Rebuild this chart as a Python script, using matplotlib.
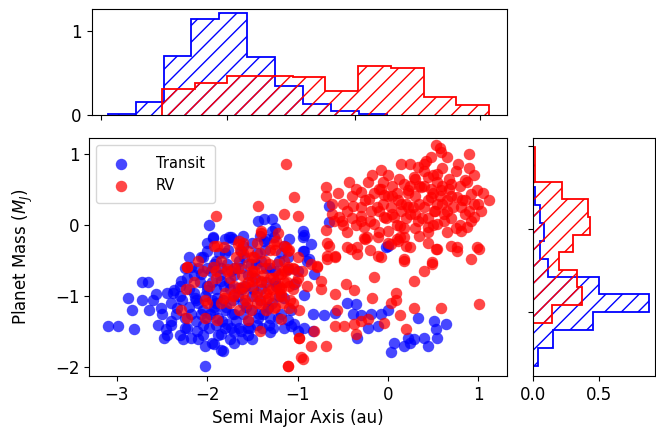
import matplotlib
matplotlib.use("Agg")
import matplotlib.pyplot as plt
import numpy as np

# --- scatter data: log10 semi-major axis (au) and log10 planet mass (M_J) ---
transit_a = [
    -3.10, -2.99, -2.81, -2.88, -2.83, -2.72, -2.66, -2.72, -2.57, -2.51,
    -2.48, -2.46, -2.40, -2.37, -2.29, -2.33, -2.27, -2.22, -2.18, -2.11,
    -2.07, -2.00, -1.94, -2.02, -1.92, -1.83, -1.85, -2.14, -2.07, -2.00,
    -1.92, -1.89, -1.78, -1.74, -1.63, -1.85, -1.74, -1.66, -1.55, -1.44,
    -1.33, -1.63, -2.07, -2.18, -1.70, -1.18, -1.11, -1.04, -1.37, -1.26,
    -1.11, -1.00, -1.00, -1.98, -1.94, -1.76, -2.05, -1.44, -1.37, -1.28,
    -1.28, -0.94, -0.93, -0.93, -0.87, -0.65, -0.65, -0.94, -0.94, -0.89,
    -0.82, -1.11, -1.04, -0.93, -1.15, -1.07, -1.07, -0.93, -0.83, -0.83,
    -0.71, -0.59, -0.45, -0.35, -0.39, -0.30, -0.19, -0.11, -0.08, 0.00,
    -0.22, -0.34, 0.03, 0.07, 0.18, 0.25, 0.29, 0.22, 0.33, 0.40,
    0.44, 0.51, 0.53, 0.55, 0.64, 0.00, -0.85, -0.02,
    -2.20, -2.10, -2.00, -1.95, -1.90, -1.85, -1.80, -1.75, -1.70, -1.65,
    -1.60, -1.55, -1.50, -1.45, -1.40, -1.35, -1.30, -2.25, -2.15, -2.05,
    -1.95, -1.90, -1.80, -1.75, -2.30, -2.00, -1.60, -1.55, -1.25, -1.20,
    -1.15, -2.40, -2.45, -1.30, -1.85,
]
transit_m = [
    -1.42, -1.42, -1.46, -1.02, -1.20, -0.80, -0.80, -1.06, -0.97, -1.16,
    -1.58, -1.46, -1.35, -0.92, -0.78, -1.16, -1.60, -1.44, -1.58, -1.49,
    -0.45, -0.36, -0.17, -1.98, -1.67, -1.77, -1.53, -1.02, -1.25, -0.92,
    -1.20, -1.02, -1.39, -0.17, -0.36, -0.78, -0.64, -0.88, -1.44, -1.30,
    -1.16, -1.49, -0.69, -0.59, -1.25, -1.25, -1.34, -1.39, -0.22, -0.17,
    -0.45, -0.64, -1.49, 0.00, -0.19, -0.17, -0.45, 0.06, 0.09, 0.09,
    -0.08, -0.08, -0.14, -0.36, -0.48, 0.27, 0.04, -0.17, -0.36, -0.50,
    -0.69, -0.62, -0.83, -0.99, -1.02, -1.20, -1.42, -1.44, -1.25, -1.49,
    -1.27, -1.23, -1.09, -1.11, -1.25, -1.27, -1.25, -1.42, -1.25, -1.20,
    -1.44, -1.58, -1.79, -1.65, -1.70, -1.65, -1.60, -1.58, -1.30, -1.58,
    -1.70, -1.35, -1.46, -1.58, -1.39, -0.29, -0.27, -0.31,
    -0.90, -1.10, -1.30, -0.80, -1.40, -0.60, -1.20, -0.90, -1.50, -0.50,
    -1.10, -0.70, -1.00, -0.40, -0.90, -0.60, -1.30, -1.30, -0.70, -1.55,
    -1.05, -0.50, -0.40, -1.60, -1.00, -0.60, -0.30, -1.55, -0.80, -0.50,
    -0.30, -1.10, -0.95, -1.50, -1.75,
]
# densely populated short-period transit core
transit_core = [
    (-2.35, -1.25), (-2.30, -0.85), (-2.25, -1.45), (-2.20, -1.15), (-2.15, -0.95),
    (-2.12, -1.35), (-2.08, -0.80), (-2.05, -1.20), (-2.02, -1.00), (-1.98, -1.45),
    (-1.96, -0.65), (-1.93, -1.15), (-1.90, -0.90), (-1.88, -1.30), (-1.86, -0.70),
    (-1.83, -1.05), (-1.80, -1.45), (-1.78, -0.55), (-1.76, -0.80), (-1.73, -1.25),
    (-1.70, -0.70), (-1.68, -1.35), (-1.66, -1.00), (-1.63, -0.60), (-1.60, -1.25),
    (-1.58, -0.85), (-1.55, -1.35), (-1.52, -0.55), (-1.50, -1.20), (-1.47, -0.75),
    (-1.45, -1.40), (-1.42, -1.05), (-1.40, -0.50), (-1.38, -1.25), (-1.35, -0.80),
    (-1.32, -1.40), (-1.28, -1.10), (-1.25, -0.65), (-1.22, -1.30), (-1.20, -1.00),
    (-1.18, -0.40), (-1.15, -1.45), (-2.40, -1.40), (-2.50, -1.25), (-2.55, -1.40),
    (-2.60, -1.05), (-2.65, -1.20), (-2.30, -1.55), (-2.10, -1.60), (-1.95, -1.65),
    (-1.70, -1.65), (-1.50, -1.60), (-2.00, -0.25), (-1.80, -0.20), (-1.60, -0.15),
    (-1.50, -0.25), (-1.35, -0.20), (-1.25, -0.05), (-1.10, -0.20), (-2.20, -0.45),
    (-2.28, -1.05), (-2.22, -0.75), (-2.18, -1.25), (-2.12, -1.05), (-2.10, -0.60),
    (-2.05, -1.40), (-2.00, -0.85), (-1.97, -1.25), (-1.93, -0.55), (-1.90, -1.10),
    (-1.87, -0.40), (-1.84, -1.35), (-1.82, -0.85), (-1.79, -1.15), (-1.77, -0.35),
    (-1.74, -1.45), (-1.71, -1.05), (-1.69, -0.60), (-1.65, -1.45), (-1.62, -0.90),
    (-1.59, -0.45), (-1.57, -1.15), (-1.53, -1.45), (-1.49, -0.90), (-1.46, -0.55),
    (-1.43, -1.25), (-1.39, -1.45), (-1.36, -0.35), (-1.33, -1.15), (-1.30, -0.60),
    (-1.27, -1.45), (-1.24, -0.85), (-2.45, -1.55), (-2.38, -0.95), (-2.02, -1.70),
    (-1.88, -1.55), (-1.62, -1.60), (-2.25, -0.60), (-1.72, -0.20), (-1.42, -0.15),
]

rv_a = [
    -1.90, -1.65, -1.92, -1.81, -2.23, -1.44, -1.13, -1.04, -1.15, -1.00,
    -1.41, -1.24, -1.13, -0.69, -0.68, -0.62, -0.69, -0.54, -0.51, -0.43,
    -0.39, -0.67, -0.67, -0.58, -0.78, -0.41, -0.34,
    -0.30, -0.21, -0.17, -0.08, -0.10, -0.04, 0.03, 0.11, -0.19, -0.30,
    -0.26, -0.15, -0.04, 0.07, 0.14, 0.00, -0.11, -0.23, 0.11, 0.18,
    0.22, 0.25, 0.22, 0.18, 0.29, 0.33, 0.40, 0.37, 0.44, 0.48,
    0.40, 0.51, 0.33, 0.44, 0.55, 0.62, 0.66, 0.59, 0.55, 0.48,
    0.53, 0.59, 0.70, 0.77, 0.81, 0.85, 0.90, 0.92, 0.99, 1.03,
    0.96, 1.12, 0.81, 0.88, 0.99, 0.77, 0.55, 0.25, 0.18, -0.08,
    0.49, 0.00,
    -2.22, -2.29, -2.22, -2.24, -2.03, -2.03, -1.94, -1.89, -1.78, -1.81,
    -1.89, -1.66, -1.70, -1.63, -1.55, -1.51, -1.40, -1.48, -1.40, -1.55,
    -1.42, -1.33, -1.26, -1.18, -1.11, -1.26, -1.22, -1.18, -1.11, -0.98,
    -0.96, -1.09, -1.40, -1.51,
    -1.15, -1.11, -1.04, -1.15, -1.18, -0.78, -0.74, -0.74, -0.67, -0.59,
    -0.65, -0.45, -0.34, -0.26, -0.11, 0.03, 0.14, 0.18, 0.40, 0.49,
    0.53, 0.77, 0.92, 1.01, -0.15, -0.46, -0.37, -0.17, -0.58, -0.56,
    -0.59, -0.48, -0.37, -0.30, -0.22, -0.35, -0.04, 0.03, 0.09, 0.09,
    0.14, 0.20, 0.29, 0.59, 0.29, 1.01, -0.98, -0.98, -0.85, -0.69,
    -0.94, -1.11, -0.82, -1.18,
    -1.75, -1.60, -1.50, -1.45, -1.35, -1.30, -1.25, -1.20, -1.55, -1.70,
    -1.90, -2.10, -1.65, -1.40, -1.15, -1.35, -1.05, -1.00, -1.60,
    -0.50, -0.35, -0.25, -0.10, 0.05, 0.10, 0.15, 0.30, 0.35, 0.45,
    0.60, 0.70, 0.75, 0.85, 0.95, 0.60, 0.25, -0.05, 0.65, 0.40,
    0.20, -0.20, 0.00, 0.50, 0.30, 0.80, 0.55, -0.40, 0.90,
]
rv_m = [
    0.12, -0.22, -0.29, -0.31, -0.59, 0.27, 0.86, 0.39, 0.16, 0.12,
    -0.08, -0.22, -0.31, 0.53, 0.41, 0.16, -0.07, 0.11, 0.06, 0.60,
    0.27, -0.26, -0.43, -0.45, -0.57, -0.34, -0.41,
    0.46, 0.37, 0.70, 0.77, 0.51, 0.42, 0.25, 0.35, 0.20, 0.13,
    -0.03, 0.02, 0.11, 0.11, -0.01, -0.08, -0.17, -0.17, -0.22, -0.17,
    0.25, 0.16, 0.49, 0.58, 0.67, 0.81, 0.86, 0.53, 0.67, 0.39,
    0.25, 0.20, 0.06, -0.03, 0.02, 0.16, 0.35, 0.49, 0.72, 0.96,
    1.12, 1.03, 0.58, 0.39, 0.25, 0.63, 1.00, 0.44, 0.49, 0.20,
    0.11, 0.35, -0.08, -0.03, -0.31, -0.31, -0.34, -0.31, -0.50, -0.45,
    -0.52, -0.25,
    -0.59, -1.20, -1.30, -0.90, -1.06, -1.30, -0.59, -0.29, -0.62, -1.02,
    -1.34, -0.27, -0.97, -0.88, -0.36, -0.64, -0.12, -0.45, -0.78, -1.34,
    -1.49, -1.02, -1.16, -0.69, -0.36, -0.27, -0.12, -0.88, -1.98, -1.58,
    -1.86, -1.16, -1.11, -0.78,
    -0.29, -0.59, -0.62, -0.80, -0.97, -0.59, -0.78, -0.90, -0.48, -0.43,
    -0.29, -0.31, -0.31, -0.19, -0.43, -0.27, -0.17, -0.48, -0.64, -0.55,
    -0.34, -0.36, -0.48, -0.34, -0.73, -0.83, -0.92, -1.02, -0.97, -1.20,
    -1.42, -1.42, -1.39, -1.35, -1.32, -1.53, -1.37, -1.09, -0.95, -1.06,
    -1.27, -1.46, -1.16, -1.16, -0.78, -1.11, -1.20, -1.58, -1.70, -1.70,
    -1.88, -1.98, -1.49, -1.32,
    -0.75, -0.95, -0.85, -1.10, -0.95, -0.75, -1.00, -0.85, -0.55, -0.60,
    -0.75, -0.50, -1.20, -0.60, -0.65, -1.20, -0.90, -0.75, -0.40,
    0.30, 0.00, 0.35, 0.20, 0.55, 0.00, 0.30, 0.40, -0.15, 0.10,
    0.30, 0.10, 0.75, 0.35, 0.70, 0.80, 0.85, 0.60, -0.10, 0.55,
    -0.30, -0.35, 0.40, 0.45, 0.15, 0.00, 0.60, 0.10, 0.20,
]
# RV planets overlapping the hot-Jupiter core
rv_core = [
    (-1.85, -0.50), (-1.80, -0.95), (-1.75, -1.10), (-1.70, -0.85), (-1.68, -0.45),
    (-1.62, -0.70), (-1.58, -1.05), (-1.55, -0.80), (-1.52, -1.20), (-1.48, -0.65),
    (-1.45, -0.95), (-1.42, -0.40), (-1.38, -0.70), (-1.35, -1.05), (-1.32, -0.55),
    (-1.28, -0.90), (-1.25, -1.15), (-1.22, -0.70), (-1.18, -1.00), (-1.15, -0.50),
    (-1.12, -0.80), (-1.08, -1.05), (-1.05, -0.60), (-1.00, -0.45), (-0.95, -0.65),
    (-1.98, -0.85), (-2.05, -0.65), (-2.15, -0.80), (-2.00, -1.10), (-1.60, -0.25),
    (-1.50, -0.45), (-1.30, -0.35), (-1.10, -0.35),
    (-1.78, -0.65), (-1.72, -1.00), (-1.66, -0.60), (-1.60, -0.85), (-1.56, -1.10),
    (-1.50, -0.70), (-1.46, -1.00), (-1.40, -0.80), (-1.36, -0.50), (-1.33, -0.90),
    (-1.27, -0.75), (-1.23, -0.55), (-1.20, -0.90), (-1.16, -1.10), (-1.13, -0.65),
    (-1.09, -0.85), (-1.05, -1.10), (-1.02, -0.80), (-1.90, -0.65), (-1.85, -1.10),
    (-1.64, -0.35), (-1.45, -0.25), (-1.25, -0.35), (-0.90, -0.85), (-0.85, -0.55),
]
# long-period giant planets
rv_giants = [
    (-0.60, 0.05), (-0.55, 0.45), (-0.45, -0.10), (-0.45, 0.20), (-0.35, 0.50),
    (-0.30, 0.25), (-0.20, 0.05), (-0.15, 0.45), (-0.10, -0.10), (-0.05, 0.30),
    (0.00, 0.70), (0.05, 0.15), (0.10, 0.45), (0.15, 0.85), (0.20, 0.10),
    (0.25, 0.55), (0.30, -0.05), (0.35, 0.30), (0.40, 0.75), (0.45, 0.35),
    (0.50, 0.00), (0.50, 0.70), (0.55, 0.30), (0.60, 0.55), (0.65, 0.95),
    (0.70, 0.40), (0.75, -0.05), (0.80, 0.55), (0.85, 0.15), (0.90, 0.80),
    (0.95, 0.30), (1.05, 0.45), (0.65, 0.20), (0.30, 0.65), (-0.25, -0.20),
    (0.10, -0.20), (0.45, -0.25), (0.70, -0.30), (0.20, 0.30), (0.58, 1.08),
    (-0.62, 0.30), (-0.50, 0.00), (-0.40, 0.40), (-0.30, 0.05), (-0.22, 0.60),
    (-0.12, 0.25), (-0.02, 0.10), (0.05, 0.40), (0.12, 0.65), (0.18, -0.05),
    (0.22, 0.45), (0.28, 0.25), (0.35, 0.55), (0.38, 0.10), (0.42, 0.90),
    (0.48, 0.50), (0.52, 0.20), (0.58, 0.40), (0.62, 0.05), (0.68, 0.65),
    (0.72, 0.25), (0.78, 0.85), (0.82, 0.35), (0.88, 0.60), (0.92, 0.05),
    (1.00, 0.30), (0.45, -0.10), (0.15, 0.20), (-0.08, 0.50), (0.68, 0.50),
]

# --- marginal histograms (density per bin) ---
top_transit_edges = np.linspace(-3.09, 0.00, 11)
top_transit_dens = [0.01, 0.15, 0.70, 1.14, 1.21, 0.69, 0.35, 0.13, 0.05, 0.01]
top_rv_edges = np.linspace(-2.49, 1.13, 11)
top_rv_dens = [0.31, 0.385, 0.46, 0.46, 0.45, 0.29, 0.58, 0.56, 0.21, 0.12]

right_transit_edges = np.linspace(-1.98, 0.53, 11)
right_transit_dens = [0.04, 0.15, 0.455, 0.876, 0.50, 0.11, 0.055, 0.08, 0.05, 0.013]
right_rv_edges = np.linspace(-1.37, 1.10, 11)
right_rv_dens = [0.14, 0.366, 0.33, 0.195, 0.30, 0.43, 0.415, 0.215, 0.012, 0.012]

top_xticks = [-3.17, -1.77, -0.354, 1.03]
right_yticks = [-1.223, -0.054, 1.105]

t_a = transit_a + [p[0] for p in transit_core]
t_m = transit_m + [p[1] for p in transit_core]
r_a = rv_a + [p[0] for p in rv_core + rv_giants]
r_m = rv_m + [p[1] for p in rv_core + rv_giants]

W, H = 656, 443
fig = plt.figure(figsize=(W / 100, H / 100), dpi=100)

ax = fig.add_axes([89 / W, 67 / H, 418 / W, 238 / H])
ax_top = fig.add_axes([91.5 / W, (H - 115) / H, 415.5 / W, 106 / H])
ax_right = fig.add_axes([533 / W, 67 / H, 122 / W, 238 / H])

ax.scatter(t_a, t_m, s=68, color="blue", alpha=0.72,
           linewidths=0, label="Transit")
ax.scatter(r_a, r_m, s=68, color="red", alpha=0.72,
           linewidths=0, label="RV")
ax.set_xlim(-3.31, 1.32)
ax.set_ylim(-2.12, 1.22)
ax.set_xticks([-3, -2, -1, 0, 1])
ax.set_yticks([-2, -1, 0, 1])
ax.tick_params(labelsize=12)
ax.set_xlabel("Semi Major Axis (au)", fontsize=12)
ax.set_ylabel("Planet Mass ($M_J$)", fontsize=12, labelpad=14)
ax.legend(loc="upper left", fontsize=10.5, borderpad=0.7, handletextpad=1.4)

hist_kw = dict(histtype="step", fill=False, hatch="//", linewidth=1.3)
ax_top.hist(top_transit_edges[:-1], bins=top_transit_edges,
            weights=top_transit_dens, edgecolor="blue", **hist_kw)
ax_top.hist(top_rv_edges[:-1], bins=top_rv_edges,
            weights=top_rv_dens, edgecolor="red", **hist_kw)
ax_top.set_xlim(-3.27, 1.33)
ax_top.set_ylim(0, 1.26)
ax_top.set_xticks(top_xticks)
ax_top.set_xticklabels([])
ax_top.set_yticks([0, 1])
ax_top.tick_params(labelsize=12)

ax_right.hist(right_transit_edges[:-1], bins=right_transit_edges,
              weights=right_transit_dens, orientation="horizontal",
              edgecolor="blue", **hist_kw)
ax_right.hist(right_rv_edges[:-1], bins=right_rv_edges,
              weights=right_rv_dens, orientation="horizontal",
              edgecolor="red", **hist_kw)
ax_right.set_ylim(-2.12, 1.22)
ax_right.set_xlim(0, 0.92)
ax_right.set_xticks([0.0, 0.5])
ax_right.set_yticks(right_yticks)
ax_right.set_yticklabels([])
ax_right.tick_params(labelsize=12)

fig.savefig("out.png", dpi=100)
